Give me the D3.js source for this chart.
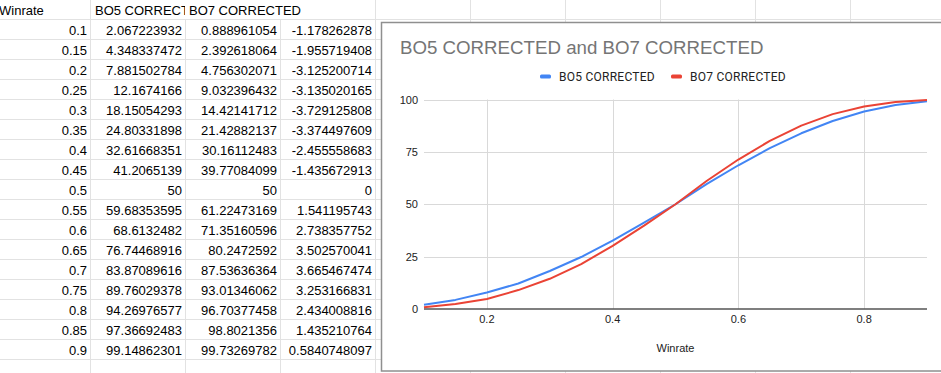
<!DOCTYPE html>
<html lang="en">
<head>
<meta charset="utf-8" />
<title>BO5 CORRECTED and BO7 CORRECTED</title>
<script src="https://cdn.jsdelivr.net/npm/d3@7"></script>
<style>
  body { margin: 0; background: #fff; overflow: hidden; }
  svg { display: block; }
  .cell { font-family: "Liberation Sans", Arial, sans-serif; font-size: 13px; fill: #000; }
  .tick-lbl { font-family: "Liberation Sans", Arial, sans-serif; font-size: 11px; fill: #222; }
  .legend-lbl { font-family: Roboto, "Liberation Sans", Arial, sans-serif; font-size: 12px; letter-spacing: 0.25px; fill: #222; }
</style>
</head>
<body>
<div id="sheet"></div>
<script>
// data, as read from the sheet
var winrate = [0.1, 0.15, 0.2, 0.25, 0.3, 0.35, 0.4, 0.45, 0.5, 0.55, 0.6, 0.65, 0.7, 0.75, 0.8, 0.85, 0.9];
var bo5 = [2.067223932, 4.348337472, 7.881502784, 12.1674166, 18.15054293, 24.80331898, 32.61668351, 41.2065139, 50,
           59.68353595, 68.6132482, 76.74468916, 83.87089616, 89.76029378, 94.26976577, 97.36692483, 99.14862301];
var bo7 = [0.888961054, 2.392618064, 4.756302071, 9.032396432, 14.42141712, 21.42882137, 30.16112483, 39.77084099, 50,
           61.22473169, 71.35160596, 80.2472592, 87.53636364, 93.01346062, 96.70377458, 98.8021356, 99.73269782];
var diff = ["-1.178262878", "-1.955719408", "-3.125200714", "-3.135020165", "-3.729125808", "-3.374497609",
            "-2.455558683", "-1.435672913", "0", "1.541195743", "2.738357752", "3.502570041", "3.665467474",
            "3.253166831", "2.434008816", "1.435210764", "0.5840748097"];
var bo5Text = ["2.067223932", "4.348337472", "7.881502784", "12.1674166", "18.15054293", "24.80331898", "32.61668351",
               "41.2065139", "50", "59.68353595", "68.6132482", "76.74468916", "83.87089616", "89.76029378",
               "94.26976577", "97.36692483", "99.14862301"];
var bo7Text = ["0.888961054", "2.392618064", "4.756302071", "9.032396432", "14.42141712", "21.42882137", "30.16112483",
               "39.77084099", "50", "61.22473169", "71.35160596", "80.2472592", "87.53636364", "93.01346062",
               "96.70377458", "98.8021356", "99.73269782"];
var headers = ["Winrate", "BO5 CORRECTED", "BO7 CORRECTED"];
var yTicks = [0, 25, 50, 75, 100];
var xTicks = [0.2, 0.4, 0.6, 0.8];

var width = 941, height = 373;
var colW = 95, rowH = 20;

var svg = d3.select("#sheet").append("svg")
    .attr("width", width)
    .attr("height", height);

// ---- spreadsheet grid ----
var grid = svg.append("g");
d3.range(0, 10).forEach(function(i) {
  var x = 90.5 + i * colW;
  grid.append("line").attr("x1", x).attr("x2", x).attr("y1", 0).attr("y2", height)
      .attr("stroke", "#e2e2e2");
});
d3.range(0, 19).forEach(function(i) {
  var y = 19.5 + i * rowH;
  grid.append("line").attr("x1", 0).attr("x2", width).attr("y1", y).attr("y2", y)
      .attr("stroke", "#e2e2e2");
});

// header row (B header is clipped by C's overflow)
svg.append("defs").append("clipPath").attr("id", "clipB")
  .append("rect").attr("x", 91).attr("y", 0).attr("width", 94).attr("height", 20);
svg.append("text").attr("class", "cell").attr("x", -1).attr("y", 15).text(headers[0]);
svg.append("text").attr("class", "cell").attr("x", 95).attr("y", 15)
    .attr("clip-path", "url(#clipB)").text(headers[1]);
svg.append("rect").attr("x", 185).attr("y", 0).attr("width", 190).attr("height", 19).attr("fill", "#fff");
svg.append("text").attr("class", "cell").attr("x", 189).attr("y", 15).text(headers[2]);

var rows = svg.append("g").selectAll("g").data(winrate).join("g")
    .attr("transform", function(d, i) { return "translate(0," + (20 + i * rowH) + ")"; });
rows.append("text").attr("class", "cell").attr("text-anchor", "end").attr("x", 87).attr("y", 15)
    .text(function(d) { return d; });
rows.append("text").attr("class", "cell").attr("text-anchor", "end").attr("x", 182).attr("y", 15)
    .text(function(d, i) { return bo5Text[i]; });
rows.append("text").attr("class", "cell").attr("text-anchor", "end").attr("x", 277).attr("y", 15)
    .text(function(d, i) { return bo7Text[i]; });
rows.append("text").attr("class", "cell").attr("text-anchor", "end").attr("x", 372).attr("y", 15)
    .text(function(d, i) { return diff[i]; });

// ---- chart ----
var chart = svg.append("g");
chart.append("rect")
    .attr("x", 381.5).attr("y", 22.5).attr("width", 600).attr("height", 348.5)
    .attr("fill", "#fff").attr("stroke", "#8f8f8f").attr("stroke-width", 1.5);

chart.append("text")
    .attr("x", 400).attr("y", 54)
    .style("font-family", "'Liberation Sans', Arial, sans-serif")
    .style("font-size", "18.7px").style("fill", "#757575")
    .text("BO5 CORRECTED and BO7 CORRECTED");

var series = [
  { name: "BO5 CORRECTED", values: bo5, color: "#4285f4", lx: 540 },
  { name: "BO7 CORRECTED", values: bo7, color: "#ea4335", lx: 671 }
];

var legend = chart.selectAll("g.leg").data(series).join("g").attr("class", "leg");
legend.append("rect")
    .attr("x", function(d) { return d.lx; }).attr("y", 74.5)
    .attr("width", 11).attr("height", 4).attr("rx", 1.5)
    .attr("fill", function(d) { return d.color; });
legend.append("text").attr("class", "legend-lbl")
    .attr("x", function(d) { return d.lx + 19; }).attr("y", 80.5)
    .text(function(d) { return d.name; });

var x = d3.scaleLinear().domain([0.1, 0.9]).range([424, 927]);
var y = d3.scaleLinear().domain([0, 100]).range([309, 99.5]);

// gridlines
chart.append("g").selectAll("line").data(yTicks.slice(1)).join("line")
    .attr("x1", 424).attr("x2", 927)
    .attr("y1", function(d) { return Math.round(y(d)) + 0.5; })
    .attr("y2", function(d) { return Math.round(y(d)) + 0.5; })
    .attr("stroke", "#d9d9d9");
chart.append("g").selectAll("line").data(xTicks).join("line")
    .attr("x1", function(d) { return Math.round(x(d)) + 0.5; })
    .attr("x2", function(d) { return Math.round(x(d)) + 0.5; })
    .attr("y1", y(100)).attr("y2", y(0))
    .attr("stroke", "#d9d9d9");

// baseline
chart.append("line").attr("x1", 424).attr("x2", 927)
    .attr("y1", 309).attr("y2", 309).attr("stroke", "#555").attr("stroke-width", 1.3);

// tick labels
chart.append("g").selectAll("text").data(yTicks).join("text").attr("class", "tick-lbl")
    .attr("text-anchor", "end").attr("x", 418)
    .attr("y", function(d) { return y(d) + 4; })
    .text(function(d) { return d; });
chart.append("g").selectAll("text").data(xTicks).join("text").attr("class", "tick-lbl")
    .attr("text-anchor", "middle")
    .attr("x", function(d) { return x(d); }).attr("y", 323)
    .text(d3.format(".1f"));
chart.append("text").attr("class", "tick-lbl")
    .attr("text-anchor", "middle").attr("x", 675.5).attr("y", 352)
    .text("Winrate");

// lines
var line = d3.line()
    .x(function(d, i) { return x(winrate[i]); })
    .y(function(d) { return y(d); });

chart.append("g").selectAll("path").data(series).join("path")
    .attr("fill", "none")
    .attr("stroke", function(d) { return d.color; })
    .attr("stroke-width", 2)
    .attr("stroke-linejoin", "round")
    .attr("d", function(d) { return line(d.values); });
</script>
</body>
</html>
